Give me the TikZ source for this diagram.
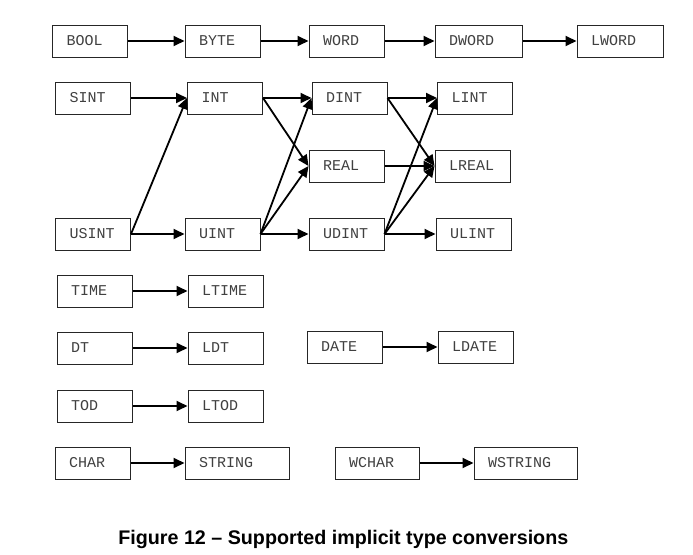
\documentclass[tikz,border=0pt]{standalone}
\usepackage{fontspec}
\usetikzlibrary{arrows.meta}
\newfontfamily\boxfont{Liberation Mono}
\newfontfamily\capfont{Liberation Sans}

\begin{document}
\begin{tikzpicture}[x=1pt, y=-1pt,
    tbox/.style={draw=black!85, line width=1pt, minimum height=32pt, text width=#1, align=left,
      inner xsep=14pt, inner ysep=0pt, font=\boxfont\fontsize{15}{15}\selectfont, text=black!75},
    tbox/.default=47pt,
    conv/.style={-{Triangle[length=11pt,width=10pt]}, line width=1.8pt}]
    \path[use as bounding box, fill=white] (0,0) rectangle (693,554);
    % word types
    \node [tbox] (bool) at (90,41) {BOOL};
    \node [tbox] (byte) at (222.5,41) {BYTE};
    \node [tbox] (word) at (346.5,41) {WORD};
    \node [tbox=59pt] (dword) at (478.5,41) {DWORD};
    \node [tbox=58pt] (lword) at (620,41) {LWORD};
    % numeric types
    \node [tbox] (sint) at (93,98) {SINT};
    \node [tbox] (int) at (225,98) {INT};
    \node [tbox] (dint) at (349.5,98) {DINT};
    \node [tbox] (lint) at (475,98) {LINT};
    \node [tbox] (real) at (346.5,166) {REAL};
    \node [tbox] (lreal) at (472.5,166) {LREAL};
    \node [tbox] (usint) at (93,234) {USINT};
    \node [tbox] (uint) at (222.5,234) {UINT};
    \node [tbox] (udint) at (346.5,234) {UDINT};
    \node [tbox] (ulint) at (473.5,234) {ULINT};
    % time and date types
    \node [tbox] (time) at (94.5,291) {TIME};
    \node [tbox] (ltime) at (225.5,291) {LTIME};
    \node [tbox] (dt) at (94.5,348) {DT};
    \node [tbox] (ldt) at (225.5,348) {LDT};
    \node [tbox] (date) at (344.5,347) {DATE};
    \node [tbox] (ldate) at (475.5,347) {LDATE};
    \node [tbox] (tod) at (94.5,406) {TOD};
    \node [tbox] (ltod) at (225.5,406) {LTOD};
    % character types
    \node [tbox] (char) at (92.5,463) {CHAR};
    \node [tbox=76pt] (string) at (237,463) {STRING};
    \node [tbox=56pt] (wchar) at (377,463) {WCHAR};
    \node [tbox=75pt] (wstring) at (525.5,463) {WSTRING};
    % conversions
    \draw [conv] (bool.east) -- (byte.west);
    \draw [conv] (byte.east) -- (word.west);
    \draw [conv] (word.east) -- (dword.west);
    \draw [conv] (dword.east) -- (lword.west);
    \draw [conv] (sint.east) -- (int.west);
    \draw [conv] (usint.east) -- (int.west);
    \draw [conv] (usint.east) -- (uint.west);
    \draw [conv] (int.east) -- (dint.west);
    \draw [conv] (int.east) -- (real.west);
    \draw [conv] (uint.east) -- (dint.west);
    \draw [conv] (uint.east) -- (real.west);
    \draw [conv] (uint.east) -- (udint.west);
    \draw [conv] (dint.east) -- (lint.west);
    \draw [conv] (dint.east) -- (lreal.west);
    \draw [conv] (real.east) -- (lreal.west);
    \draw [conv] (udint.east) -- (lint.west);
    \draw [conv] (udint.east) -- (lreal.west);
    \draw [conv] (udint.east) -- (ulint.west);
    \draw [conv] (time.east) -- (ltime.west);
    \draw [conv] (dt.east) -- (ldt.west);
    \draw [conv] (date.east) -- (ldate.west);
    \draw [conv] (tod.east) -- (ltod.west);
    \draw [conv] (char.east) -- (string.west);
    \draw [conv] (wchar.east) -- (wstring.west);
    % caption
    \node [anchor=base, inner sep=0pt, font=\capfont\bfseries\fontsize{19.7}{20}\selectfont] (caption) at (343.3,544.3)
      {Figure 12 – Supported implicit type conversions};
  \end{tikzpicture}
\end{document}
